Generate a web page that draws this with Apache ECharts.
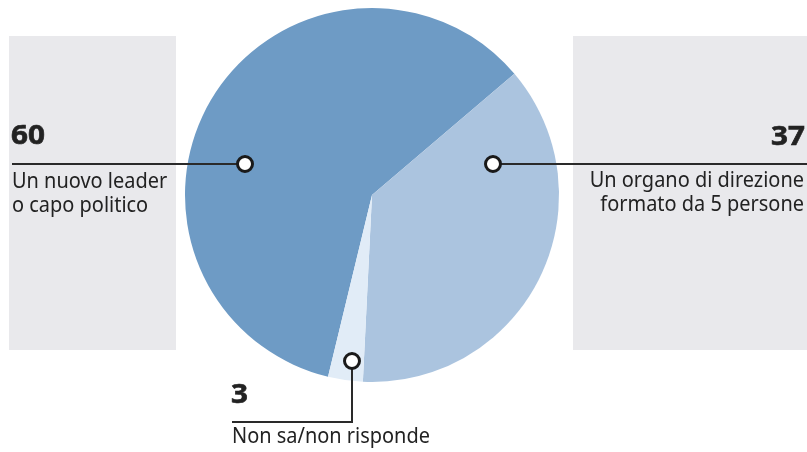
<!DOCTYPE html>
<html>
<head>
<meta charset="utf-8">
<script src="https://cdn.jsdelivr.net/npm/echarts@6/dist/echarts.min.js"></script>
<style>
html,body{margin:0;padding:0;background:#fff;}
#c{width:807px;height:452px;}
</style>
</head>
<body>
<div id="c"></div>
<script>
// ---- data ----
const categories = ['Un nuovo leader\no capo politico', 'Un organo di direzione\nformato da 5 persone', 'Non sa/non risponde'];
const values = [60, 37, 3];
const sliceColors = ['#6e9bc5', '#abc4df', '#e1ecf7'];

// ---- layout (positions only) ----
const pieCenter = [372, 195];
const pieRadius = 187;
const startAngle = 256.4;
const boxes = [
  {x: 9, y: 36, w: 167, h: 314},
  {x: 573, y: 36, w: 240, h: 314}
];
const callouts = [
  {marker: [245, 164], line: [[245, 164], [12, 164]], num: [11, 136, 'left'], text: [12, 182, 'left']},
  {marker: [493, 164], line: [[493, 164], [810, 164]], num: [805, 137, 'right'], text: [804, 181, 'right']},
  {marker: [352, 361], line: [[352, 361], [352, 422], [232, 422]], num: [231, 395, 'left'], text: [232, 437, 'left']}
];
const lineGap = 24;
const textColor = '#222';
const fontFamily = '"Noto Sans", sans-serif';

const chart = echarts.init(document.getElementById('c'), null, {renderer: 'canvas'});

const graphics = [];
boxes.forEach(b => graphics.push({
  type: 'rect', z: 0, silent: true,
  shape: {x: b.x, y: b.y, width: b.w, height: b.h},
  style: {fill: '#e9e9ec'}
}));
callouts.forEach((c, i) => {
  graphics.push({
    type: 'polyline', z: 10, silent: true,
    shape: {points: c.line},
    style: {stroke: '#2a2a2a', lineWidth: 2, fill: null}
  });
  graphics.push({
    type: 'circle', z: 11, silent: true,
    shape: {cx: c.marker[0], cy: c.marker[1], r: 7.5},
    style: {fill: '#fff', stroke: '#1a1a1a', lineWidth: 3}
  });
  graphics.push({
    type: 'text', z: 11, silent: true,
    x: c.num[0], y: c.num[1],
    scaleX: 1.1,
    style: {text: String(values[i]), fill: textColor, font: 'bold 27px ' + fontFamily,
      textAlign: c.num[2], textVerticalAlign: 'middle', stroke: textColor, lineWidth: 0.6}
  });
  categories[i].split('\n').forEach((t, k) => {
    graphics.push({
      type: 'text', z: 11, silent: true,
      x: c.text[0], y: c.text[1] + k * lineGap,
      scaleX: 0.95,
      style: {text: t, fill: textColor, font: '21px ' + fontFamily,
        textAlign: c.text[2], textVerticalAlign: 'middle'}
    });
  });
});

chart.setOption({
  animation: false,
  backgroundColor: '#ffffff',
  graphic: {elements: graphics},
  series: [{
    type: 'pie',
    center: pieCenter,
    radius: pieRadius,
    startAngle: startAngle,
    clockwise: true,
    silent: true,
    label: {show: false},
    labelLine: {show: false},
    emphasis: {disabled: true},
    itemStyle: {borderWidth: 0},
    data: values.map((v, i) => ({
      value: v,
      name: categories[i],
      itemStyle: {color: sliceColors[i]}
    }))
  }]
});
</script>
</body>
</html>
